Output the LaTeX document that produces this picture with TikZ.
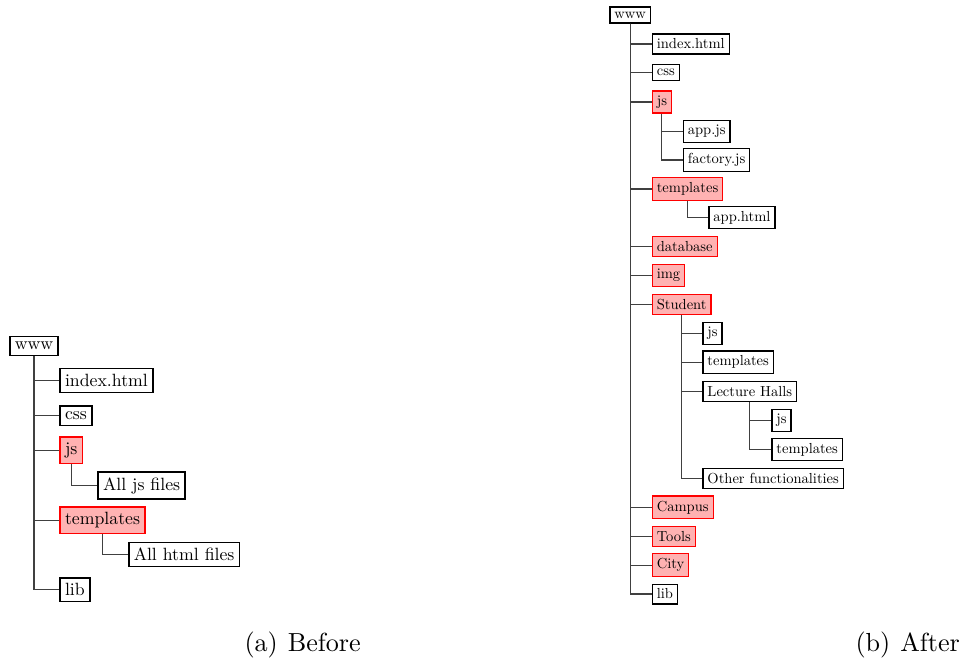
\documentclass[tikz,border=0pt]{standalone}
\usepackage{graphicx}
\newcommand\lefttxt[1]{\scalebox{0.71}{#1}}
\newcommand\righttxt[1]{\scalebox{0.582}{#1}}
\begin{document}
\begin{tikzpicture}[x=0.4pt,y=-0.4pt,
  lbox/.style={draw=black, line width=0.6pt, inner xsep=2pt, inner ysep=2.2pt, anchor=west, fill=white},
  lred/.style={lbox, draw=red, fill=red!30},
  rbox/.style={draw=black, line width=0.5pt, inner xsep=1.8pt, inner ysep=1.9pt, anchor=west, fill=white},
  rred/.style={rbox, draw=red, fill=red!30},
  conn/.style={draw=black!75, line width=0.45pt},
  capt/.style={anchor=base west, inner sep=0pt, font=\fontsize{10.45}{12.5}\selectfont}]
\useasboundingbox (0,0) rectangle (960,659);

% ---------- Before ----------
\node[lbox] (Lwww)   at (9,346)      {\lefttxt{www}};
\node[lbox] (Lindex) at (59.3,380.5) {\lefttxt{index.html}};
\node[lbox] (Lcss)   at (59.3,415.7) {\lefttxt{css}};
\node[lred] (Ljs)    at (59.3,450.3) {\lefttxt{js}};
\node[lbox] (Ljsall) at (97.3,485.5) {\lefttxt{All js files}};
\node[lred] (Ltpl)   at (59.3,520.2) {\lefttxt{templates}};
\node[lbox] (Lhtml)  at (128,554.5)  {\lefttxt{All html files}};
\node[lbox] (Llib)   at (59.3,589.7) {\lefttxt{lib}};

\draw[conn] (Lwww.south) |- (Lindex.west);
\draw[conn] (Lwww.south) |- (Lcss.west);
\draw[conn] (Lwww.south) |- (Ljs.west);
\draw[conn] (Lwww.south) |- (Ltpl.west);
\draw[conn] (Lwww.south) |- (Llib.west);
\draw[conn] (Ljs.south) |- (Ljsall.west);
\draw[conn] (Ltpl.south) |- (Lhtml.west);

% ---------- After ----------
\node[rbox] (Rwww)     at (609.3,15)    {\righttxt{www}};
\node[rbox] (Rindex)   at (651.7,44)    {\righttxt{index.html}};
\node[rbox] (Rcss)     at (651.7,72.7)  {\righttxt{css}};
\node[rred] (Rjs)      at (651.7,102)   {\righttxt{js}};
\node[rbox] (Rappjs)   at (682.7,131.3) {\righttxt{app.js}};
\node[rbox] (Rfact)    at (682.7,160)   {\righttxt{factory.js}};
\node[rred] (Rtpl)     at (651.7,189)   {\righttxt{templates}};
\node[rbox] (Rapphtml) at (708.3,217.5) {\righttxt{app.html}};
\node[rred] (Rdb)      at (651.7,246.7) {\righttxt{database}};
\node[rred] (Rimg)     at (651.7,275.5) {\righttxt{img}};
\node[rred] (Rstud)    at (651.7,304.3) {\righttxt{Student}};
\node[rbox] (Rsjs)     at (702.3,333.3) {\righttxt{js}};
\node[rbox] (Rstpl)    at (702.3,362.3) {\righttxt{templates}};
\node[rbox] (Rlh)      at (702.3,391.3) {\righttxt{Lecture Halls}};
\node[rbox] (Rlhjs)    at (771.3,420.3) {\righttxt{js}};
\node[rbox] (Rlhtpl)   at (771.3,449.4) {\righttxt{templates}};
\node[rbox] (Rother)   at (702.3,478.5) {\righttxt{Other functionalities}};
\node[rred] (Rcampus)  at (651.7,507.3) {\righttxt{Campus}};
\node[rred] (Rtools)   at (651.7,536.3) {\righttxt{Tools}};
\node[rred] (Rcity)    at (651.7,565.2) {\righttxt{City}};
\node[rbox] (Rlib)     at (651.7,594)   {\righttxt{lib}};

\foreach \c in {Rindex,Rcss,Rjs,Rtpl,Rdb,Rimg,Rstud,Rcampus,Rtools,Rcity,Rlib}
  \draw[conn] (Rwww.south) |- (\c.west);
\draw[conn] (Rjs.south) |- (Rappjs.west);
\draw[conn] (Rjs.south) |- (Rfact.west);
\draw[conn] (Rtpl.south) |- (Rapphtml.west);
\foreach \c in {Rsjs,Rstpl,Rlh,Rother}
  \draw[conn] (Rstud.south) |- (\c.west);
\draw[conn] (Rlh.south) |- (Rlhjs.west);
\draw[conn] (Rlh.south) |- (Rlhtpl.west);

% ---------- captions ----------
\node[capt] (capa) at (244,651) {(a)\hspace{0.38em}Before};
\node[capt] (capb) at (855,651) {(b)\hspace{0.38em}After};
\end{tikzpicture}
\end{document}
